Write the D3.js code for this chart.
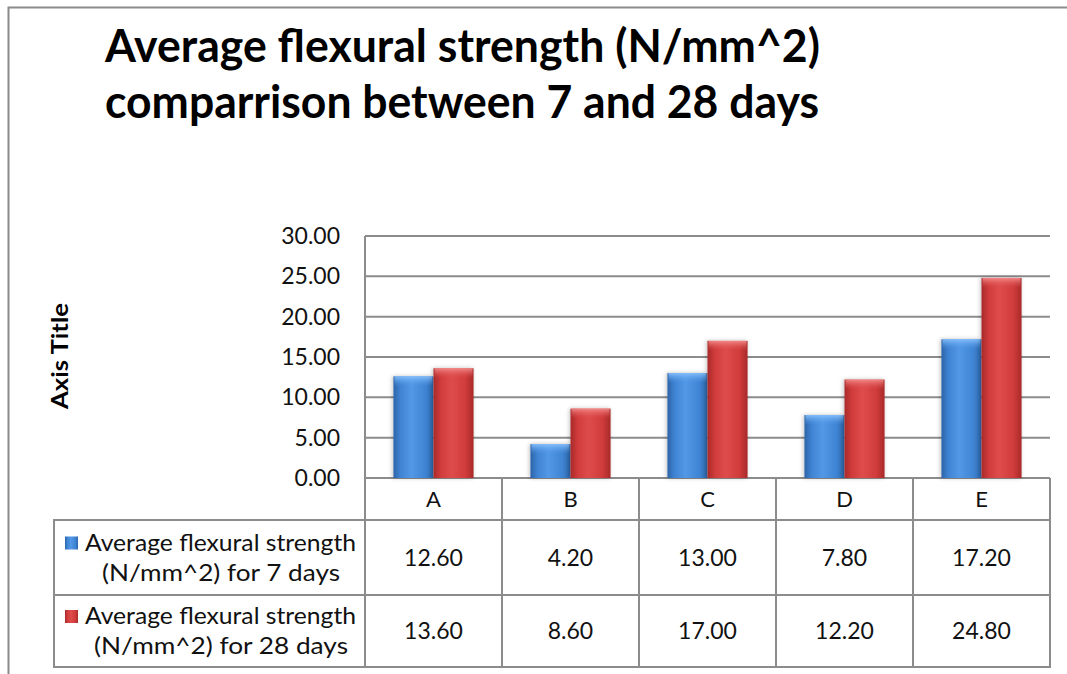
<!DOCTYPE html>
<html>
<head>
<meta charset="utf-8">
<script src="https://cdn.jsdelivr.net/npm/d3@7"></script>
<style>
  html, body { margin: 0; padding: 0; background: #fff; }
  svg { display: block; font-family: Lato, "Liberation Sans", sans-serif; }
</style>
</head>
<body>
<svg id="chart" width="1067" height="674"></svg>
<script>
// Chart data
const categories = ["A", "B", "C", "D", "E"];
const seriesNames = [
  ["Average flexural strength", "(N/mm^2) for 7 days"],
  ["Average flexural strength", "(N/mm^2) for 28 days"]
];
const days7 = [12.60, 4.20, 13.00, 7.80, 17.20];
const days28 = [13.60, 8.60, 17.00, 12.20, 24.80];
const yTicks = [0, 5, 10, 15, 20, 25, 30];
const titleLines = ["Average flexural strength (N/mm^2)", "comparrison between 7 and 28 days"];
const yAxisTitle = "Axis Title";

const series = [days7, days28];

const svg = d3.select("#chart");
const W = 1067, H = 674;

// Layout
const plot = { left: 365, right: 1050, top: 236, bottom: 478 };
const table = { left: 54, right: 1051, catBottom: 520, row1: 595, row2: 667 };
const gridColor = "#8c8c8c";
const textColor = "#111";

// Outer chart frame
svg.append("rect")
  .attr("x", 8.5).attr("y", 7.5)
  .attr("width", W + 10).attr("height", H + 10)
  .attr("fill", "#fff")
  .attr("stroke", "#8a8a8a").attr("stroke-width", 2);

// Gradients for the bevelled bars
const defs = svg.append("defs");
const palettes = [
  { edge: "#2c64a8", mid: "#3f84d4", light: "#5298e6", top: "#8cc4ff" },
  { edge: "#a82a2a", mid: "#d03b3b", light: "#de4c4c", top: "#f59090" }
];
palettes.forEach((p, i) => {
  const g = defs.append("linearGradient").attr("id", "barGrad" + i)
    .attr("x1", "0").attr("x2", "1").attr("y1", "0").attr("y2", "0");
  g.append("stop").attr("offset", "0%").attr("stop-color", p.edge);
  g.append("stop").attr("offset", "18%").attr("stop-color", p.mid);
  g.append("stop").attr("offset", "45%").attr("stop-color", p.light);
  g.append("stop").attr("offset", "80%").attr("stop-color", p.mid);
  g.append("stop").attr("offset", "100%").attr("stop-color", p.edge);
  const t = defs.append("linearGradient").attr("id", "topGrad" + i)
    .attr("x1", "0").attr("x2", "0").attr("y1", "0").attr("y2", "1");
  t.append("stop").attr("offset", "0%").attr("stop-color", p.top).attr("stop-opacity", 0.9);
  t.append("stop").attr("offset", "100%").attr("stop-color", p.light).attr("stop-opacity", 0);
});
const shadow = defs.append("filter").attr("id", "barShadow")
  .attr("x", "-20%").attr("y", "-10%").attr("width", "140%").attr("height", "120%");
shadow.append("feDropShadow").attr("dx", -1).attr("dy", 0).attr("stdDeviation", 2)
  .attr("flood-color", "#000").attr("flood-opacity", 0.25);

// Scales
const x0 = d3.scaleBand().domain(categories).range([plot.left, plot.right]).paddingInner(0).paddingOuter(0);
const x1 = d3.scaleBand().domain([0, 1]).range([0, x0.bandwidth()]).paddingInner(0).paddingOuter(0.71);
const y = d3.scaleLinear().domain([0, 30]).range([plot.bottom, plot.top]);

// Horizontal gridlines
svg.append("g").selectAll("line").data(yTicks).join("line")
  .attr("x1", plot.left).attr("x2", plot.right)
  .attr("y1", d => y(d)).attr("y2", d => y(d))
  .attr("stroke", gridColor).attr("stroke-width", 2);

// Y axis with labels
const yAxis = d3.axisLeft(y).tickValues(yTicks).tickFormat(d3.format(".2f")).tickSize(0).tickPadding(25);
const yg = svg.append("g").attr("transform", `translate(${plot.left},0)`).call(yAxis);
yg.select(".domain").remove();
yg.selectAll("text").attr("font-size", 23).attr("fill", textColor)
  .attr("font-family", "Lato, 'Liberation Sans', sans-serif");

// Bars
const groups = svg.append("g").selectAll("g").data(categories).join("g")
  .attr("transform", d => `translate(${x0(d)},0)`);
groups.each(function(cat, ci) {
  const g = d3.select(this);
  series.forEach((vals, si) => {
    const bx = x1(si), bw = x1.bandwidth();
    const top = y(vals[ci]), h = y(0) - y(vals[ci]);
    g.append("rect")
      .attr("x", bx).attr("y", top).attr("width", bw).attr("height", h)
      .attr("fill", `url(#barGrad${si})`).attr("filter", "url(#barShadow)");
    g.append("rect")
      .attr("x", bx + 1).attr("y", top).attr("width", bw - 2).attr("height", Math.min(10, h))
      .attr("fill", `url(#topGrad${si})`);
  });
});

// Left axis line (runs down through the category row)
svg.append("line")
  .attr("x1", plot.left).attr("x2", plot.left)
  .attr("y1", plot.top).attr("y2", table.row2)
  .attr("stroke", gridColor).attr("stroke-width", 2);

// Data table
const tg = svg.append("g");
const boundaries = categories.map(c => x0(c)).concat([plot.right]);
tg.selectAll("line.v").data(boundaries.slice(1)).join("line")
  .attr("x1", d => d).attr("x2", d => d)
  .attr("y1", plot.bottom).attr("y2", table.row2)
  .attr("stroke", gridColor).attr("stroke-width", 2);
tg.append("line").attr("x1", table.left).attr("x2", table.left)
  .attr("y1", table.catBottom).attr("y2", table.row2)
  .attr("stroke", gridColor).attr("stroke-width", 2);
[table.catBottom, table.row1, table.row2].forEach(yy => {
  tg.append("line").attr("x1", table.left - 1).attr("x2", plot.right + 1)
    .attr("y1", yy).attr("y2", yy)
    .attr("stroke", gridColor).attr("stroke-width", 2);
});

// Category labels
tg.selectAll("text.cat").data(categories).join("text")
  .attr("x", d => x0(d) + x0.bandwidth() / 2)
  .attr("y", (plot.bottom + table.catBottom) / 2 + 8)
  .attr("text-anchor", "middle").attr("font-size", 22).attr("fill", textColor)
  .text(d => d);

// Values in table rows
const rowMid = [(table.catBottom + table.row1) / 2, (table.row1 + table.row2) / 2];
series.forEach((vals, si) => {
  tg.selectAll(`text.val${si}`).data(vals).join("text")
    .attr("x", (d, i) => x0(categories[i]) + x0.bandwidth() / 2)
    .attr("y", rowMid[si] + 8)
    .attr("text-anchor", "middle").attr("font-size", 23).attr("fill", textColor)
    .text(d => d3.format(".2f")(d));
});

// Legend keys in the table
const keyCenter = 221;
series.forEach((vals, si) => {
  const lines = seriesNames[si];
  const ty = rowMid[si] - 7;
  tg.append("rect")
    .attr("x", 65).attr("y", ty - 14).attr("width", 13).attr("height", 13)
    .attr("fill", `url(#barGrad${si})`);
  tg.append("text").attr("x", 85).attr("y", ty)
    .attr("font-size", 23).attr("fill", textColor)
    .attr("textLength", 271).attr("lengthAdjust", "spacingAndGlyphs")
    .text(lines[0]);
  tg.append("text").attr("x", keyCenter).attr("y", ty + 30)
    .attr("text-anchor", "middle").attr("font-size", 23).attr("fill", textColor)
    .attr("textLength", si === 0 ? 238 : 254).attr("lengthAdjust", "spacingAndGlyphs")
    .text(lines[1]);
});

// Title
const titleG = svg.append("g");
titleG.append("text").attr("x", 105).attr("y", 62)
  .attr("font-size", 45).attr("font-weight", "bold").attr("fill", "#000")
  .attr("textLength", 715).attr("lengthAdjust", "spacingAndGlyphs")
  .text(titleLines[0]);
titleG.append("text").attr("x", 105).attr("y", 118)
  .attr("font-size", 45).attr("font-weight", "bold").attr("fill", "#000")
  .attr("textLength", 714).attr("lengthAdjust", "spacingAndGlyphs")
  .text(titleLines[1]);

// Vertical axis title
svg.append("text")
  .attr("transform", `translate(68,356) rotate(-90)`)
  .attr("text-anchor", "middle").attr("font-size", 22).attr("font-weight", "bold").attr("fill", "#000")
  .attr("textLength", 106).attr("lengthAdjust", "spacingAndGlyphs")
  .text(yAxisTitle);
</script>
</body>
</html>
